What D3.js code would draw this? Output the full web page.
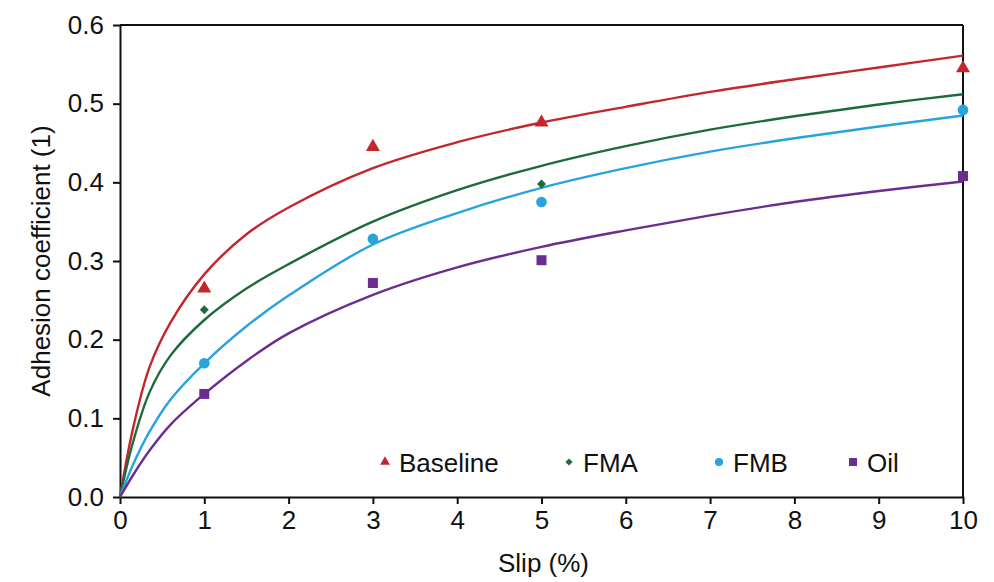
<!DOCTYPE html>
<html><head><meta charset="utf-8">
<script src="https://cdn.jsdelivr.net/npm/d3@7"></script>
<style>
body{margin:0;background:#fff}
text{font-family:"Liberation Sans",Arial,sans-serif;fill:#111}
</style>
</head><body><svg id="c" width="994" height="582"></svg>
<script>
// Measured points
const slipPoints = [1, 3, 5, 10];
const baselinePts = [0.265, 0.445, 0.476, 0.545];
const fmaPts = [0.238, null, 0.398, null];
const fmbPts = [0.170, 0.328, 0.375, 0.492];
const oilPts = [0.131, 0.272, 0.301, 0.408];
// Fitted curves
const curveSlip = [0, 0.15, 0.35, 0.6, 1, 1.5, 2, 3, 4, 5, 6, 7, 8, 9, 10];
const baselineFit = [0, 0.085, 0.165, 0.222, 0.283, 0.334, 0.368, 0.418, 0.451, 0.476, 0.496, 0.515, 0.531, 0.546, 0.561];
const fmaFit = [0, 0.068, 0.133, 0.180, 0.225, 0.265, 0.296, 0.350, 0.390, 0.421, 0.446, 0.467, 0.484, 0.499, 0.512];
const fmbFit = [0, 0.040, 0.083, 0.124, 0.170, 0.217, 0.256, 0.321, 0.361, 0.393, 0.418, 0.439, 0.456, 0.471, 0.485];
const oilFit = [0, 0.027, 0.059, 0.092, 0.131, 0.173, 0.208, 0.257, 0.292, 0.318, 0.339, 0.358, 0.375, 0.389, 0.401];
const seriesNames = ["Baseline", "FMA", "FMB", "Oil"];
const seriesColors = ["#c1272d", "#1d6b38", "#29a3dd", "#6b2d8f"];
const xTickValues = [0, 1, 2, 3, 4, 5, 6, 7, 8, 9, 10];
const yTickValues = [0, 0.1, 0.2, 0.3, 0.4, 0.5, 0.6];
const xTitle = "Slip (%)";
const yTitle = "Adhesion coefficient (1)";

const W = 994, H = 582;
const m = {left: 120, right: 31, top: 25, bottom: 85};
const svg = d3.select("#c");
const x = d3.scaleLinear().domain([0, 10]).range([m.left, W - m.right]);
const y = d3.scaleLinear().domain([0, 0.6]).range([H - m.bottom, m.top]);

const series = [
  {name: seriesNames[0], color: seriesColors[0], pts: baselinePts, fit: baselineFit, sym: d3.symbolTriangle, size: 85, lsize: 42, rot: 0},
  {name: seriesNames[1], color: seriesColors[1], pts: fmaPts, fit: fmaFit, sym: d3.symbolSquare, size: 40, lsize: 26, rot: 45},
  {name: seriesNames[2], color: seriesColors[2], pts: fmbPts, fit: fmbFit, sym: d3.symbolCircle, size: 90, lsize: 52, rot: 0},
  {name: seriesNames[3], color: seriesColors[3], pts: oilPts, fit: oilFit, sym: d3.symbolSquare, size: 100, lsize: 64, rot: 0}
];

// Axes
const xAxis = svg.append("g").attr("transform", `translate(0,${y(0)})`)
  .call(d3.axisBottom(x).tickValues(xTickValues).tickSize(7).tickSizeOuter(0).tickPadding(7));
const yAxis = svg.append("g").attr("transform", `translate(${x(0)},0)`)
  .call(d3.axisLeft(y).tickValues(yTickValues).tickFormat(d3.format(".1f")).tickSize(7).tickSizeOuter(0).tickPadding(9));
[xAxis, yAxis].forEach(g => {
  g.select(".domain").attr("stroke", "#111").attr("stroke-width", 2);
  g.selectAll(".tick line").attr("stroke", "#111").attr("stroke-width", 2);
  g.selectAll(".tick text").style("font-size", "26px").attr("fill", "#111")
   .style("font-family", '"Liberation Sans",Arial,sans-serif');
});
// frame: top and right
svg.append("line").attr("x1", x(0)).attr("x2", x(10)).attr("y1", y(0.6)).attr("y2", y(0.6))
  .attr("stroke", "#111").attr("stroke-width", 2);
svg.append("line").attr("x1", x(10)).attr("x2", x(10)).attr("y1", y(0.6)).attr("y2", y(0))
  .attr("stroke", "#111").attr("stroke-width", 2);

// Titles
svg.append("text").attr("x", (x(0) + x(10)) / 2 + 2).attr("y", 572).attr("text-anchor", "middle")
  .style("font-size", "26px").text(xTitle);
svg.append("text").attr("transform", `translate(50,${(y(0) + y(0.6)) / 2})rotate(-90)`)
  .attr("text-anchor", "middle").style("font-size", "26px").text(yTitle);

// Curves
const line = d3.line().x(d => x(d[0])).y(d => y(d[1])).curve(d3.curveCatmullRom.alpha(0.5));
series.forEach(s => {
  svg.append("path").datum(curveSlip.map((v, i) => [v, s.fit[i]]))
    .attr("d", line).attr("fill", "none").attr("stroke", s.color).attr("stroke-width", 2.4);
});

// Markers
series.forEach(s => {
  slipPoints.forEach((sx, i) => {
    const v = s.pts[i];
    if (v == null) return;
    svg.append("path").attr("d", d3.symbol().type(s.sym).size(s.size)())
      .attr("transform", `translate(${x(sx)},${y(v)})rotate(${s.rot})`)
      .attr("fill", s.color);
  });
});

// Legend
const legX = [385, 569, 719, 853];
series.forEach((s, i) => {
  const g = svg.append("g").attr("transform", `translate(${legX[i]},462)`);
  g.append("path").attr("d", d3.symbol().type(s.sym).size(s.lsize)())
    .attr("transform", `rotate(${s.rot})`).attr("fill", s.color);
  g.append("text").attr("x", 14).attr("y", 10).style("font-size", "26px").text(s.name);
});
</script>
</body></html>
